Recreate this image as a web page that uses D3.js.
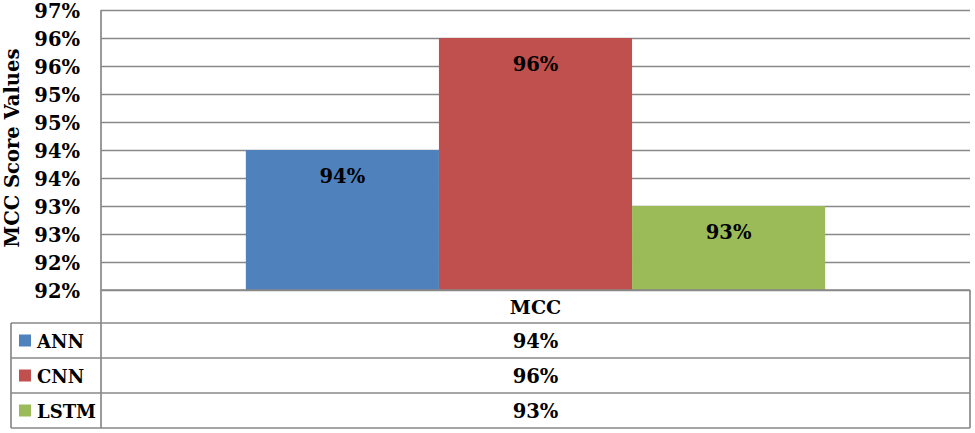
<!DOCTYPE html>
<html><head><meta charset="utf-8">
<script src="https://cdn.jsdelivr.net/npm/d3@7"></script>
<style>
html,body{margin:0;padding:0;background:#fff;}
svg text{font-family:"DejaVu Serif",serif;font-weight:bold;fill:#000;}
</style></head>
<body><svg id="c" width="975" height="433"></svg>
<script>
const categories = ["MCC"];
const seriesNames = ["ANN", "CNN", "LSTM"];
const seriesValues = [0.94, 0.96, 0.93];
const valueLabels = ["94%", "96%", "93%"];
const colors = ["#4F81BD", "#C0504D", "#9BBB59"];
const tickValues = [0.915, 0.92, 0.925, 0.93, 0.935, 0.94, 0.945, 0.95, 0.955, 0.96, 0.965];
const tickLabels = ["92%", "92%", "93%", "93%", "94%", "94%", "95%", "95%", "96%", "96%", "97%"];
const yTitle = "MCC Score Values";

(function () {
const svg = d3.select("#c");
const pL = 101, pR = 970, pT = 10, pB = 290;
const rowH = 35;
const grid = "#898989";

const y = d3.scaleLinear().domain([0.915, 0.965]).range([pB, pT]);
const x0 = d3.scaleBand().domain(categories).range([pL, pR]).paddingInner(0).paddingOuter(0);
const x1 = d3.scaleBand().domain(seriesNames).range([0, x0.bandwidth()]).paddingInner(0).paddingOuter(0.75);

// gridlines
svg.append("g").selectAll("line").data(tickValues).join("line")
  .attr("x1", pL).attr("x2", pR)
  .attr("y1", d => Math.round(y(d)) + 0.5).attr("y2", d => Math.round(y(d)) + 0.5)
  .attr("stroke", grid).attr("stroke-width", 1.7);

// y axis labels
const yAxis = d3.axisLeft(y).tickValues(tickValues).tickFormat((d, i) => tickLabels[i]).tickSize(0).tickPadding(21);
const ga = svg.append("g").attr("transform", `translate(${pL},0)`).call(yAxis);
ga.select(".domain").remove();
ga.selectAll("text").style("font-size", "19.5px").style("font-family", "DejaVu Serif").style("font-weight", "bold").attr("dy", "0.36em");

// bars
const bars = svg.append("g");
seriesNames.forEach((s, i) => {
  const bx = x0("MCC") + x1(s);
  bars.append("rect")
    .attr("x", bx).attr("y", y(seriesValues[i]))
    .attr("width", x1.bandwidth()).attr("height", y(0.915) - y(seriesValues[i]))
    .attr("fill", colors[i]);
  bars.append("text")
    .attr("x", bx + x1.bandwidth() / 2).attr("y", y(seriesValues[i]) + 33)
    .attr("text-anchor", "middle").style("font-size", "19.5px")
    .text(valueLabels[i]);
});

// y axis title
svg.append("text")
  .attr("transform", `translate(19,148) rotate(-90)`)
  .attr("text-anchor", "middle").style("font-size", "19.5px")
  .text(yTitle);

// data table
const tb = svg.append("g").attr("fill", "none").attr("stroke", grid).attr("stroke-width", 1.7);
const tTop = pB, h0 = 33;
const rowsY = seriesNames.map((s, i) => tTop + h0 + i * rowH);
const tBottom = tTop + h0 + seriesNames.length * rowH;
tb.append("line").attr("x1", pL).attr("x2", pL).attr("y1", pT).attr("y2", tBottom);
tb.append("line").attr("x1", pR).attr("x2", pR).attr("y1", tTop).attr("y2", tBottom);
tb.append("line").attr("x1", pL).attr("x2", pR).attr("y1", tTop).attr("y2", tTop);
tb.append("line").attr("x1", 11).attr("x2", 11).attr("y1", rowsY[0]).attr("y2", tBottom);
rowsY.concat([tBottom]).forEach(ry => {
  tb.append("line").attr("x1", 11).attr("x2", pR).attr("y1", ry).attr("y2", ry);
});

const cx = x0("MCC") + x0.bandwidth() / 2;
svg.append("text").attr("x", cx).attr("y", tTop + h0 / 2 + 7)
  .attr("text-anchor", "middle").style("font-size", "19px").text(categories[0]);
seriesNames.forEach((s, i) => {
  const ry = rowsY[i] + rowH / 2;
  svg.append("text").attr("x", cx).attr("y", ry + 7)
    .attr("text-anchor", "middle").style("font-size", "19.5px").text(valueLabels[i]);
  svg.append("rect").attr("x", 19).attr("y", ry - 6).attr("width", 12).attr("height", 12).attr("fill", colors[i]);
  svg.append("text").attr("x", 37).attr("y", ry + 7).style("font-size", "18px").text(s);
});
})();
</script></body></html>
